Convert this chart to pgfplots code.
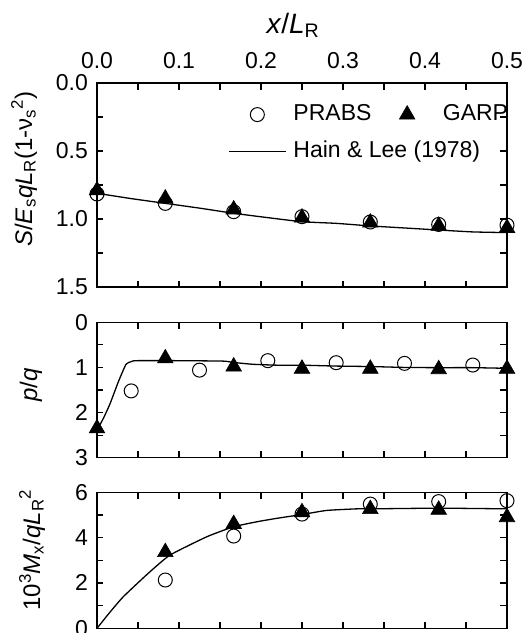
\documentclass[border=0pt]{standalone}
\usepackage{fontspec}
\setmainfont{Liberation Sans}
\usepackage{pgfplots}
\pgfplotsset{compat=1.18}

\pgfplotsset{
  panel/.style={
    scale only axis, width=410pt,
    xmin=0, xmax=0.5,
    xtick={0,0.1,0.2,0.3,0.4,0.5},
    minor xtick={0.05,0.15,0.25,0.35,0.45},
    tick align=inside,
    major tick length=6.5pt, minor tick length=6.5pt,
    tick style={black, line width=1.1pt},
    minor tick style={black, line width=1.1pt},
    axis line style={line width=1.3pt},
    clip=false,
    font=\fontsize{23}{27}\selectfont,
    /pgf/number format/assume math mode=true,
    yticklabel style={anchor=east, inner sep=0pt, xshift=-9pt},
    every axis y label/.style={rotate=90, anchor=base, font=\fontsize{24}{28}\selectfont},
  },
  hain/.style={black, line width=1.3pt, mark=none, smooth, tension=0.3},
  garp/.style={only marks, mark=triangle*, mark size=9pt, mark options={fill=black, draw=black, line width=0.6pt}},
  prabs/.style={only marks, mark=o, mark size=7pt, mark options={fill=white, draw=black, line width=1pt}},
}

\begin{document}
\begin{tikzpicture}

% ---------------- top panel ----------------
\begin{axis}[panel,
  at={(97pt,346pt)}, anchor=south west, height=204pt,
  ymin=0, ymax=1.5, y dir=reverse,
  ytick={0,0.5,1,1.5}, minor ytick={0.25,0.75,1.25},
  yticklabels={0.0,0.5,1.0,1.5},
  xticklabels={0.0,0.1,0.2,0.3,0.4,0.5},
  xticklabel pos=upper,
  xticklabel style={anchor=base, inner sep=0pt, yshift=15pt},
  xlabel={\fontsize{28}{32}\selectfont\textit{x}/\textit{L}\textsubscript{R}},
  every axis x label/.style={at={(axis description cs:0.478,1.245)}, anchor=base},
  ylabel={\textit{S}/\textit{E}\textsubscript{s}\textit{qL}\textsubscript{R}(1-ν\textsubscript{s}\textsuperscript{2})},
  every axis y label/.append style={at={(axis description cs:-0.1585,0.578)}},
  legend columns=2,
  legend cell align=left,
  legend image code/.code={\path (0pt,0pt) (57pt,0pt); \draw[mark repeat=2,mark phase=2] plot coordinates {(0pt,0pt) (28.5pt,0pt) (57pt,0pt)};},
  legend style={at={(axis description cs:0.3195,0.9)}, anchor=north west, draw=none, fill=none,
    inner sep=0pt, column sep=0pt, row sep=15pt,
    nodes={inner xsep=7pt, inner ysep=0pt, text height=17pt, text depth=5pt}},
]
\addlegendimage{prabs}
\addlegendentry{PRABS}
\addlegendimage{garp}
\addlegendentry{GARP}
\addlegendimage{black, line width=1.3pt}
\addlegendentry{\makebox[0pt][l]{Hain \& Lee (1978)}}

\addplot[hain, forget plot] coordinates {
(0,0.811) (0.0417,0.85) (0.0833,0.885) (0.125,0.92) (0.1667,0.958) (0.2083,0.99)
(0.25,1.02) (0.2917,1.032) (0.3333,1.051) (0.375,1.066) (0.4167,1.081) (0.4583,1.095) (0.5,1.10)};
\addplot[garp, forget plot] coordinates {
(0,0.79) (0.0833,0.85) (0.1667,0.93) (0.25,0.99) (0.3333,1.027) (0.4167,1.05) (0.5,1.066)};
\addplot[prabs, forget plot] coordinates {
(0,0.816) (0.0833,0.885) (0.1667,0.946) (0.25,0.983) (0.3333,1.022) (0.4167,1.04) (0.5,1.045)};
\end{axis}

% ---------------- middle panel ----------------
\begin{axis}[panel,
  at={(97pt,175.3pt)}, anchor=south west, height=135.4pt,
  ymin=0, ymax=3, y dir=reverse,
  ytick={0,1,2,3}, minor ytick={0.5,1.5,2.5},
  yticklabels={0,1,2,3},
  xticklabels={},
  ylabel={\textit{p}/\textit{q}},
  every axis y label/.append style={at={(axis description cs:-0.146,0.537)}},
]
\addplot[hain] coordinates {
(0,2.39) (0.008,2.12) (0.016,1.80) (0.026,1.32) (0.0354,0.93) (0.042,0.87) (0.048,0.85)
(0.10,0.85) (0.154,0.86) (0.1667,0.89) (0.19,0.93) (0.22,0.95) (0.25,0.95) (0.2917,0.97)
(0.3333,0.98) (0.375,1.0) (0.4167,1.005) (0.4583,1.005) (0.5,1.02)};
\addplot[garp] coordinates {
(0,2.35) (0.0833,0.80) (0.1667,0.98) (0.25,1.03) (0.3333,1.03) (0.4167,1.04) (0.5,1.03)};
\addplot[prabs] coordinates {
(0.0417,1.52) (0.125,1.06) (0.2083,0.85) (0.2917,0.895) (0.375,0.91) (0.4583,0.947)};
\end{axis}

% ---------------- bottom panel ----------------
\begin{axis}[panel,
  at={(97pt,4.7pt)}, anchor=south west, height=136pt,
  ymin=0, ymax=6,
  ytick={0,2,4,6}, minor ytick={1,3,5},
  yticklabels={0,2,4,6},
  xticklabels={},
  ylabel={10\textsuperscript{3}\textit{M}\textsubscript{x}/\textit{qL}\textsubscript{R}\textsuperscript{2}},
  every axis y label/.append style={at={(axis description cs:-0.139,0.576)}},
]
\addplot[hain] coordinates {
(0,0) (0.016,0.72) (0.032,1.39) (0.0626,2.43) (0.089,3.23) (0.134,4.04) (0.1667,4.48)
(0.195,4.70) (0.219,4.85) (0.25,5.02) (0.28,5.2) (0.3167,5.27) (0.3333,5.27) (0.4167,5.30) (0.5,5.27)};
\addplot[garp] coordinates {
(0.0833,3.36) (0.1667,4.6) (0.25,5.12) (0.3333,5.26) (0.4167,5.23) (0.5,4.9)};
\addplot[prabs] coordinates {
(0.0833,2.13) (0.1667,4.07) (0.25,5.04) (0.3333,5.48) (0.4167,5.59) (0.5,5.63)};
\end{axis}

\pgfresetboundingbox
\path[use as bounding box] (0,0) rectangle (523pt,633pt);
\end{tikzpicture}
\end{document}
